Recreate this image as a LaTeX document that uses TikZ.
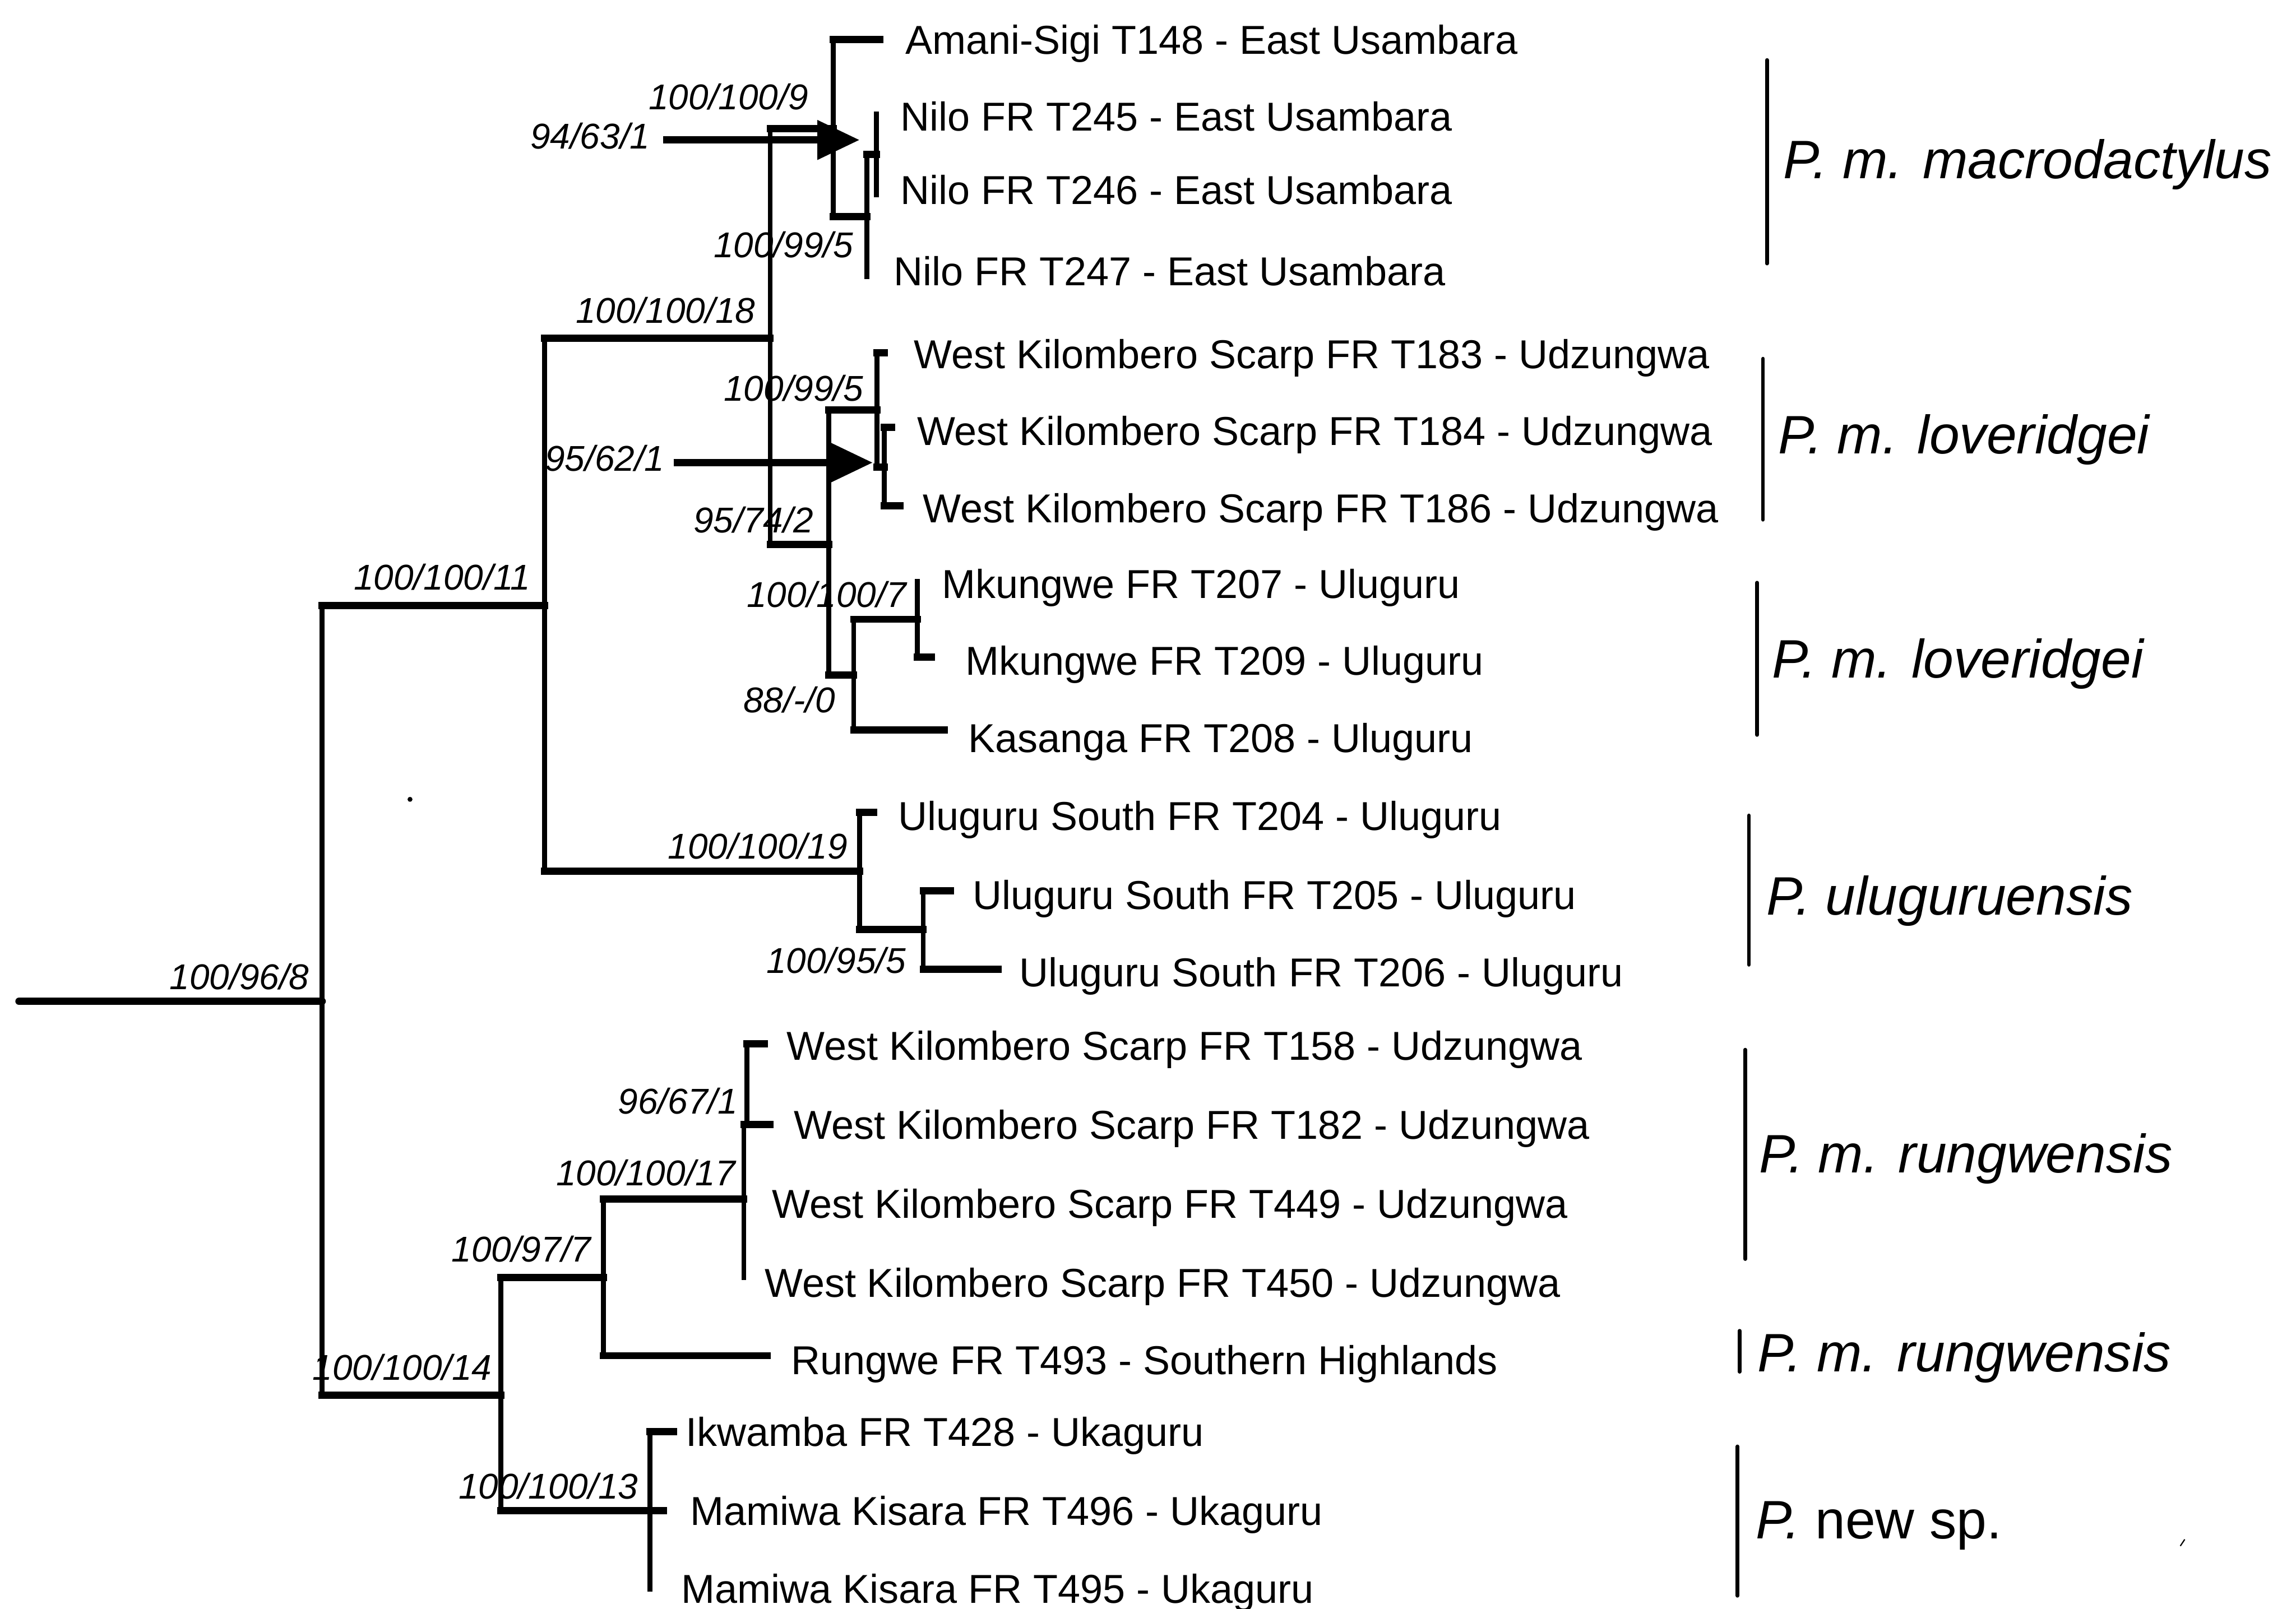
\documentclass[tikz,border=0pt]{standalone}
\usepackage{fontspec}
\setmainfont{Liberation Sans}
\usetikzlibrary{arrows.meta}
\newcommand\brnch[2]{\draw[vl] (#1) -- (#1 |- #2); \draw[hl] (#1 |- #2) -- (#2);}
\tikzset{
 hl/.style={line width=3.5pt, line cap=rect},
 vl/.style={line width=2.4pt, line cap=rect},
 rootl/.style={line width=3.6pt, line cap=round},
 tiplab/.style={anchor=base west, inner sep=0pt, font=\fontsize{19.6}{22}\selectfont},
 boot/.style={anchor=base, inner sep=0pt, font=\fontsize{17.4}{20}\selectfont\itshape},
 spec/.style={anchor=base west, inner sep=0pt, font=\fontsize{26.3}{30}\selectfont\itshape},
 sbar/.style={line width=1.8pt, line cap=round},
 ptr/.style={line width=3.4pt, -{Triangle[length=0.72cm,width=0.65cm]}},
}
\begin{document}
\begin{tikzpicture}[x=0.025cm, y=-0.025cm]
\useasboundingbox (0,0) rectangle (1568,1099);
% internal nodes
\coordinate (r0) at (13,684);
\coordinate (n8) at (220,684);
\coordinate (n11) at (372,413.5);
\coordinate (n14) at (342,953);
\coordinate (n18) at (526,231);
\coordinate (n19) at (587,595);
\coordinate (n9) at (569,88);
\coordinate (n742) at (566,372);
\coordinate (n995a) at (592,148);
\coordinate (n163) at (598.5,105.5);
\coordinate (n995b) at (599,280);
\coordinate (n184) at (604,319);
\coordinate (n880) at (583,461);
\coordinate (n1007) at (626.5,423);
\coordinate (n955) at (630.5,635);
\coordinate (n977) at (412,872.5);
\coordinate (n17) at (508,819);
\coordinate (n671) at (510,768);
\coordinate (n1013) at (444,1032);
% tips
\coordinate (tA) at (601,27);
\coordinate (t245) at (598.5,78);
\coordinate (t246) at (598.5,133);
\coordinate (t247) at (592,189);
\coordinate (t183) at (604,241);
\coordinate (t184) at (609,292);
\coordinate (t186) at (614.5,345.5);
\coordinate (t207) at (626.5,397);
\coordinate (t209) at (636,449);
\coordinate (t208) at (645,498.6);
\coordinate (t204) at (596.5,555);
\coordinate (t205) at (649,608.6);
\coordinate (t206) at (681.5,662);
\coordinate (t158) at (522,713);
\coordinate (t182) at (526,768);
\coordinate (t450) at (508,872.5);
\coordinate (t493) at (524,926);
\coordinate (t428) at (460,978);
\coordinate (t496) at (453,1032);
\coordinate (t495) at (444,1085.6);
% branches
\draw[rootl] (r0) -- (n8);
\brnch{n8}{n11} \brnch{n8}{n14}
\brnch{n11}{n18} \brnch{n11}{n19}
\brnch{n18}{n9} \brnch{n18}{n742}
\brnch{n9}{tA} \brnch{n9}{n995a}
\brnch{n995a}{n163} \brnch{n995a}{t247}
\brnch{n163}{t245} \brnch{n163}{t246}
\brnch{n742}{n995b} \brnch{n742}{n880}
\brnch{n995b}{t183} \brnch{n995b}{n184}
\brnch{n184}{t184} \brnch{n184}{t186}
\brnch{n880}{n1007} \brnch{n880}{t208}
\brnch{n1007}{t207} \brnch{n1007}{t209}
\brnch{n19}{t204} \brnch{n19}{n955}
\brnch{n955}{t205} \brnch{n955}{t206}
\brnch{n14}{n977} \brnch{n14}{n1013}
\brnch{n977}{n17} \brnch{n977}{t493}
\brnch{n17}{n671} \brnch{n17}{t450}
\brnch{n671}{t158} \brnch{n671}{t182}
\brnch{n1013}{t428} \brnch{n1013}{t496} \brnch{n1013}{t495}
% pointer arrows
\coordinate (a1s) at (453,95.6);
\coordinate (a1e) at (587,95.6);
\coordinate (a2s) at (460,316);
\coordinate (a2e) at (596,316);
\draw[ptr] (a1s) -- (a1e);
\draw[ptr] (a2s) -- (a2e);
% support values
\node[boot] (b9) at (497.5,74.8) {100/100/9};
\node[boot] (b94) at (403,101.8) {94/63/1};
\node[boot] (b995a) at (535,175.8) {100/99/5};
\node[boot] (b18) at (454.5,220.8) {100/100/18};
\node[boot] (b995b) at (542,273.8) {100/99/5};
\node[boot] (b95) at (413,321.8) {95/62/1};
\node[boot] (b742) at (514.5,363.8) {95/74/2};
\node[boot] (b11) at (302,402.8) {100/100/11};
\node[boot] (b1007) at (564.5,414.8) {100/100/7};
\node[boot] (b880) at (539,486.8) {88/-/0};
\node[boot] (b19) at (517.5,586.8) {100/100/19};
\node[boot] (b955) at (571,664.8) {100/95/5};
\node[boot] (b8) at (163.5,675.8) {100/96/8};
\node[boot] (b671) at (463,760.8) {96/67/1};
\node[boot] (b17) at (441,809.8) {100/100/17};
\node[boot] (b977) at (356,861.8) {100/97/7};
\node[boot] (b14) at (274.7,942.8) {100/100/14};
\node[boot] (b1013) at (374.5,1023.8) {100/100/13};
% tip labels
\node[tiplab] (lA) at (618,37) {Amani-Sigi T148 - East Usambara};
\node[tiplab] (l245) at (614.8,89.5) {Nilo FR T245 - East Usambara};
\node[tiplab] (l246) at (614.8,139.4) {Nilo FR T246 - East Usambara};
\node[tiplab] (l247) at (610,195) {Nilo FR T247 - East Usambara};
\node[tiplab] (l183) at (624,251.6) {West Kilombero Scarp FR T183 - Udzungwa};
\node[tiplab] (l184) at (626,304) {West Kilombero Scarp FR T184 - Udzungwa};
\node[tiplab] (l186) at (630,357) {West Kilombero Scarp FR T186 - Udzungwa};
\node[tiplab] (l207) at (643,408.7) {Mkungwe FR T207 - Uluguru};
\node[tiplab] (l209) at (659,461) {Mkungwe FR T209 - Uluguru};
\node[tiplab] (l208) at (661,514) {Kasanga FR T208 - Uluguru};
\node[tiplab] (l204) at (613,567) {Uluguru South FR T204 - Uluguru};
\node[tiplab] (l205) at (664,621) {Uluguru South FR T205 - Uluguru};
\node[tiplab] (l206) at (696,674) {Uluguru South FR T206 - Uluguru};
\node[tiplab] (l158) at (537,724) {West Kilombero Scarp FR T158 - Udzungwa};
\node[tiplab] (l182) at (542,778) {West Kilombero Scarp FR T182 - Udzungwa};
\node[tiplab] (l449) at (527,832) {West Kilombero Scarp FR T449 - Udzungwa};
\node[tiplab] (l450) at (522,886) {West Kilombero Scarp FR T450 - Udzungwa};
\node[tiplab] (l493) at (540,939) {Rungwe FR T493 - Southern Highlands};
\node[tiplab] (l428) at (468,988) {Ikwamba FR T428 - Ukaguru};
\node[tiplab] (l496) at (471,1042) {Mamiwa Kisara FR T496 - Ukaguru};
\node[tiplab] (l495) at (465,1095) {Mamiwa Kisara FR T495 - Ukaguru};
% species bars and names
\coordinate (s1a) at (1206.7,41); \coordinate (s1b) at (1206.7,180);
\coordinate (s2a) at (1204,245); \coordinate (s2b) at (1204,355);
\coordinate (s3a) at (1200,398); \coordinate (s3b) at (1200,502);
\coordinate (s4a) at (1194.4,557); \coordinate (s4b) at (1194.4,659);
\coordinate (s5a) at (1191.8,717); \coordinate (s5b) at (1191.8,860);
\coordinate (s6a) at (1188,909); \coordinate (s6b) at (1188,937);
\coordinate (s7a) at (1186.6,988); \coordinate (s7b) at (1186.6,1090);
\draw[sbar] (s1a) -- (s1b);
\draw[sbar] (s2a) -- (s2b);
\draw[sbar] (s3a) -- (s3b);
\draw[sbar] (s4a) -- (s4b);
\draw[sbar] (s5a) -- (s5b);
\draw[sbar] (s6a) -- (s6b);
\draw[sbar] (s7a) -- (s7b);
\node[spec] (sp1) at (1217.6,122) {P. m. macrodactylus};
\node[spec] (sp2) at (1214,310) {P. m. loveridgei};
\node[spec] (sp3) at (1210,463) {P. m. loveridgei};
\node[spec] (sp4) at (1206,625) {P. uluguruensis};
\node[spec] (sp5) at (1201,801) {P. m. rungwensis};
\node[spec] (sp6) at (1200,937) {P. m. rungwensis};
\node[spec] (sp7) at (1199,1051) {P.\upshape{} new sp.};
% specks
\fill (280,546) circle[radius=1.2pt];
\draw[line width=0.6pt] (1489,1056) -- (1492,1051.5);
\end{tikzpicture}
\end{document}
